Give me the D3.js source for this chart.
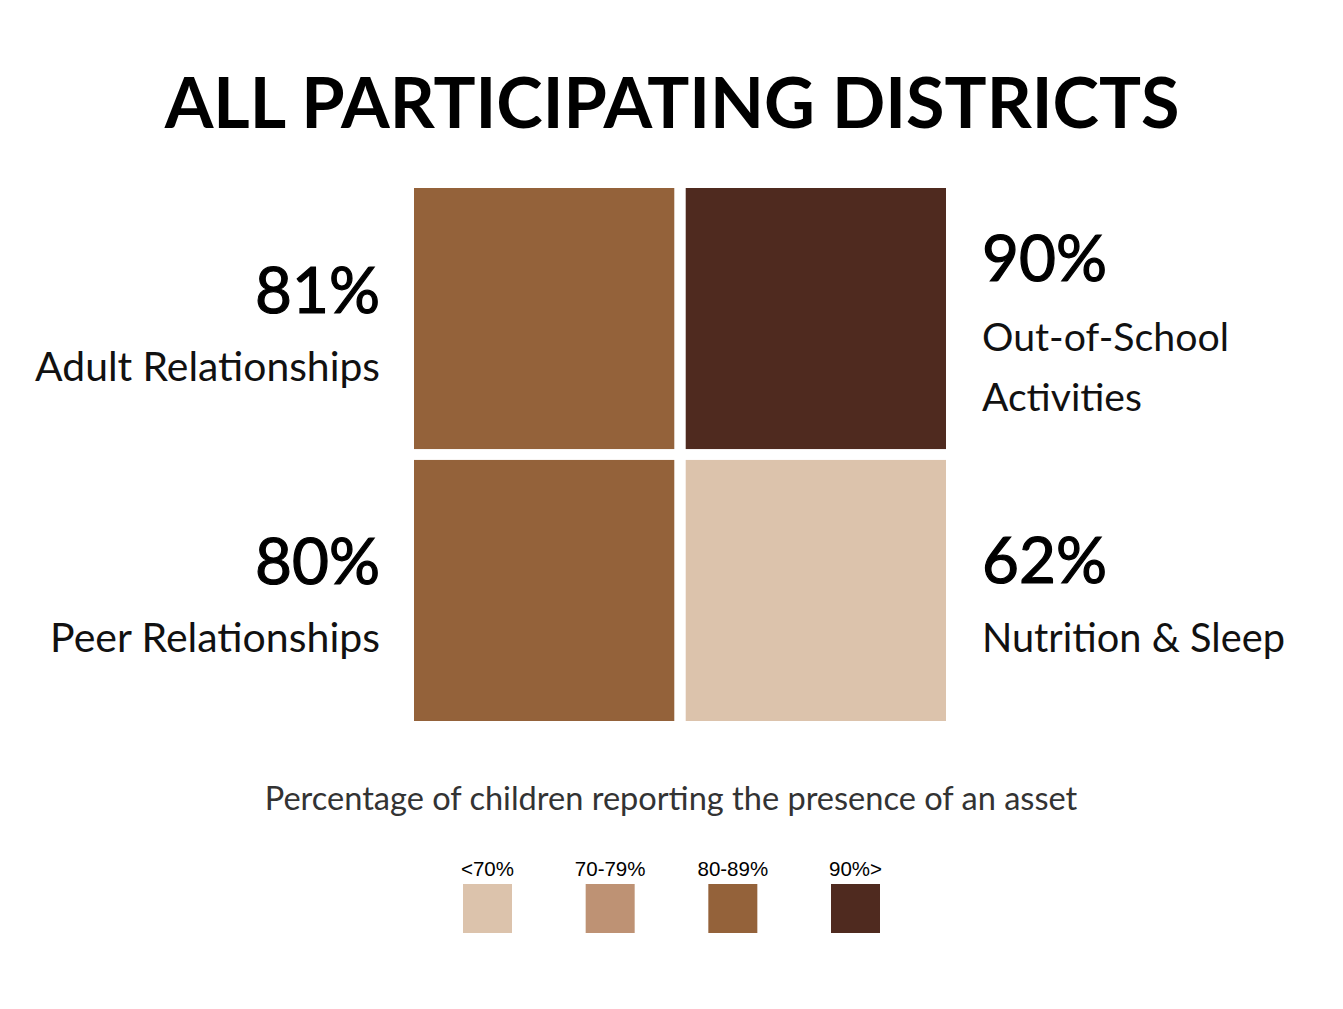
<!DOCTYPE html>
<html>
<head>
<meta charset="utf-8">
<script src="https://cdn.jsdelivr.net/npm/d3@7"></script>
<style>
  html, body { margin: 0; padding: 0; background: #fff; }
  svg { display: block; }
</style>
</head>
<body>
<svg id="chart" width="1343" height="1009"></svg>
<script>
const title = "ALL PARTICIPATING DISTRICTS";
const subtitle = "Percentage of children reporting the presence of an asset";
const assets = ["Adult Relationships", "Out-of-School Activities", "Peer Relationships", "Nutrition & Sleep"];
const values = [81, 90, 80, 62];
const cols = [0, 1, 0, 1];
const rows = [0, 0, 1, 1];
const legendLabels = ["<70%", "70-79%", "80-89%", "90%>"];
const thresholds = [70, 80, 90];
const palette = ["#DCC3AC", "#BE9274", "#94623A", "#4F2A1F"];

const svg = d3.select("#chart");
const color = d3.scaleThreshold().domain(thresholds).range(palette);

const x = d3.scaleBand().domain([0, 1]).range([414, 946]).paddingInner(0.042);
const y = d3.scaleBand().domain([0, 1]).range([188, 721]).paddingInner(0.04);

function fit(sel, target) {
  const node = sel.node();
  const fs = parseFloat(sel.attr("font-size"));
  const w = node.getComputedTextLength();
  sel.attr("font-size", fs * target / w);
}

// Title
const t = svg.append("text")
  .attr("x", 672).attr("y", 128)
  .attr("text-anchor", "middle")
  .attr("font-family", "Lato, sans-serif")
  .attr("font-weight", 700)
  .attr("font-size", 78)
  .attr("fill", "#000")
  .text(title);
fit(t, 1015);

// Squares
const data = assets.map((a, i) => ({ name: a, value: values[i], col: cols[i], row: rows[i] }));
svg.selectAll("rect.cell").data(data).join("rect")
  .attr("class", "cell")
  .attr("x", d => x(d.col))
  .attr("y", d => y(d.row))
  .attr("width", x.bandwidth())
  .attr("height", y.bandwidth())
  .attr("fill", d => color(d.value));

// Labels
const labelFont = "Lato, 'Source Sans Pro', sans-serif";
const labelSpecs = [
  { i: 0, anchor: "end", x: 380, pctY: 313, lines: ["Adult Relationships"], lineY: [381], widths: [345] },
  { i: 1, anchor: "start", x: 982, pctY: 281, lines: ["Out-of-School", "Activities"], lineY: [351, 411], widths: [247, 160] },
  { i: 2, anchor: "end", x: 380, pctY: 584, lines: ["Peer Relationships"], lineY: [652], widths: [330] },
  { i: 3, anchor: "start", x: 982, pctY: 583, lines: ["Nutrition & Sleep"], lineY: [652], widths: [303] }
];
labelSpecs.forEach(s => {
  const p = svg.append("text")
    .attr("x", s.x).attr("y", s.pctY)
    .attr("text-anchor", s.anchor)
    .attr("font-family", labelFont)
    .attr("font-size", 66)
    .attr("fill", "#000")
    .attr("stroke", "#000")
    .attr("stroke-width", 1.2)
    .text(values[s.i] + "%");
  fit(p, 125);
  s.lines.forEach((ln, k) => {
    const l = svg.append("text")
      .attr("x", s.x).attr("y", s.lineY[k])
      .attr("text-anchor", s.anchor)
      .attr("font-family", labelFont)
      .attr("font-size", 38)
      .attr("fill", "#111")
      .text(ln);
    fit(l, s.widths[k]);
  });
});

// Subtitle
const st = svg.append("text")
  .attr("x", 671).attr("y", 810)
  .attr("text-anchor", "middle")
  .attr("font-family", labelFont)
  .attr("font-size", 30)
  .attr("fill", "#333")
  .text(subtitle);
fit(st, 813);

// Legend
const lx = d3.scalePoint().domain(legendLabels).range([487.5, 855.5]);
const lg = svg.append("g");
lg.selectAll("rect").data(legendLabels).join("rect")
  .attr("x", d => lx(d) - 24.5)
  .attr("y", 884)
  .attr("width", 49)
  .attr("height", 49)
  .attr("fill", (d, i) => palette[i]);
lg.selectAll("text").data(legendLabels).join("text")
  .attr("x", d => lx(d))
  .attr("y", 876)
  .attr("text-anchor", "middle")
  .attr("font-family", "'Liberation Sans', Arial, sans-serif")
  .attr("font-size", 20.5)
  .attr("fill", "#000")
  .text(d => d);
</script>
</body>
</html>
